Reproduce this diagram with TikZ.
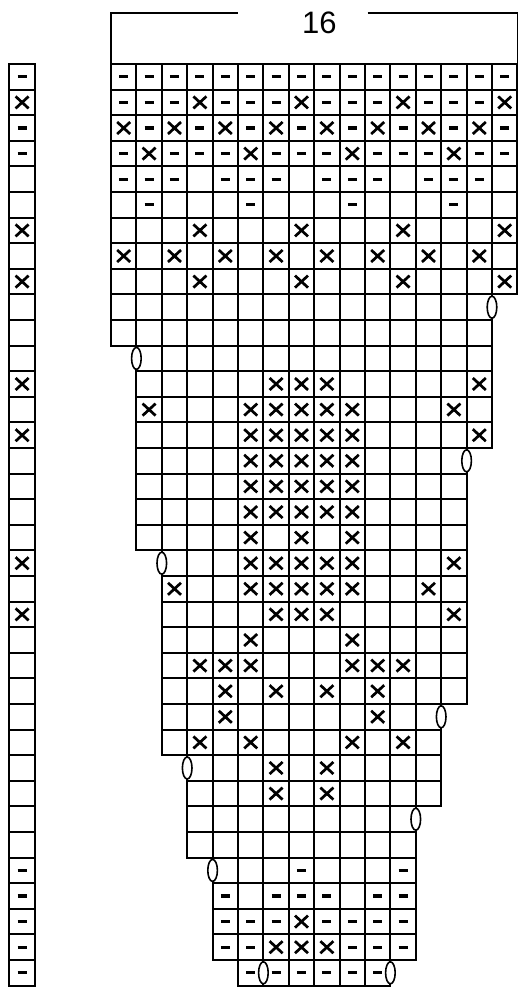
\documentclass[tikz,border=0pt]{standalone}
\usepackage{fontspec}
\setmainfont{Liberation Sans}
\tikzset{
  cell/.style = {draw, line width=2pt},
  brk/.style  = {draw, line width=1.6pt},
  xst/.style  = {line width=2.7pt},
  pst/.style  = {line width=3.2pt},
  dec/.style  = {draw, fill=white, line width=1.6pt},
  lbl/.style  = {font=\fontsize{31}{31}\selectfont, inner sep=0pt}
}
% one chart cell = one unit; column #1, row #2 counted from the top
\newcommand{\knitX}[2]{\draw[xst] (#1-0.5,#2-0.5) +(-6.5pt,-6pt) -- +(6.5pt,6pt)
                                               +(-6.5pt,6pt) -- +(6.5pt,-6pt);}
\newcommand{\knitP}[2]{\draw[pst] (#1-0.5,#2-0.5) +(-4.5pt,0) -- +(4.5pt,0);}
\newcommand{\knitDec}[2]{\draw[dec] (#1,#2-0.5) ellipse [x radius=4.8pt, y radius=11pt];}

\begin{document}
\begin{tikzpicture}[x=25.4pt, y=-25.6pt]

  \useasboundingbox (-4.370,-2.5) rectangle (16.102,36.094);

  % ── width bracket ─────────────────────────────────────────────────────────
  \node[lbl] (width) at (8.2,-1.62) {16};
  \draw[brk] (0,0) -- (0,-2) -- (5,-2);
  \draw[brk] (10.1,-2) -- (16,-2) -- (16,0);

  % ── main chart: rows ra..rb span columns ca..cb ───────────────────────────
  \foreach \ra/\rb/\ca/\cb in {1/9/1/16, 10/11/1/15, 12/15/2/15, 16/19/2/14,
                               20/25/3/14, 26/27/3/13, 28/29/4/13, 30/31/4/12,
                               32/35/5/12, 36/36/6/11}
    \foreach \r in {\ra,...,\rb}
      \foreach \c in {\ca,...,\cb}
        \draw[cell] (\c-1,\r-1) rectangle (\c,\r);

  % ── side column ───────────────────────────────────────────────────────────
  \foreach \r in {1,...,36}
    \draw[cell] (-4,\r-1) rectangle (-3,\r);

  % ── crossed stitches ──────────────────────────────────────────────────────
  \foreach \r/\cols in {2/{4,8,12,16}, 3/{1,3,5,7,9,11,13,15}, 4/{2,6,10,14},
                        7/{4,8,12,16}, 8/{1,3,5,7,9,11,13,15}, 9/{4,8,12,16},
                        13/{7,8,9,15}, 14/{2,6,7,8,9,10,14}, 15/{6,7,8,9,10,15},
                        16/{6,7,8,9,10}, 17/{6,7,8,9,10}, 18/{6,7,8,9,10},
                        19/{6,8,10}, 20/{6,7,8,9,10,14}, 21/{3,6,7,8,9,10,13},
                        22/{7,8,9,14}, 23/{6,10}, 24/{4,5,6,10,11,12},
                        25/{5,7,9,11}, 26/{5,11}, 27/{4,6,10,12},
                        28/{7,9}, 29/{7,9}, 34/{8}, 35/{7,8,9}}
    \foreach \c in \cols
      \knitX{\c}{\r};

  \foreach \r in {2,7,9,13,15,20,22}
    \knitX{-3}{\r};

  % ── dashes ────────────────────────────────────────────────────────────────
  \foreach \r/\cols in {1/{1,2,3,4,5,6,7,8,9,10,11,12,13,14,15,16},
                        2/{1,2,3,5,6,7,9,10,11,13,14,15},
                        3/{2,4,6,8,10,12,14,16},
                        4/{1,3,4,5,7,8,9,11,12,13,15,16},
                        5/{1,2,3,5,6,7,9,10,11,13,14,15},
                        6/{2,6,10,14},
                        32/{8,12}, 33/{5,7,8,9,11,12}, 34/{5,6,7,9,10,11,12},
                        35/{5,6,10,11,12}, 36/{6,7,8,9,10,11}}
    \foreach \c in \cols
      \knitP{\c}{\r};

  \foreach \r in {1,3,4,32,33,34,35,36}
    \knitP{-3}{\r};

  % ── decreases on the edges ────────────────────────────────────────────────
  \foreach \c/\r in {15/10, 1/12, 14/16, 2/20, 13/26, 3/28, 12/30, 4/32,
                     6/36, 11/36}
    \knitDec{\c}{\r};

\end{tikzpicture}
\end{document}
